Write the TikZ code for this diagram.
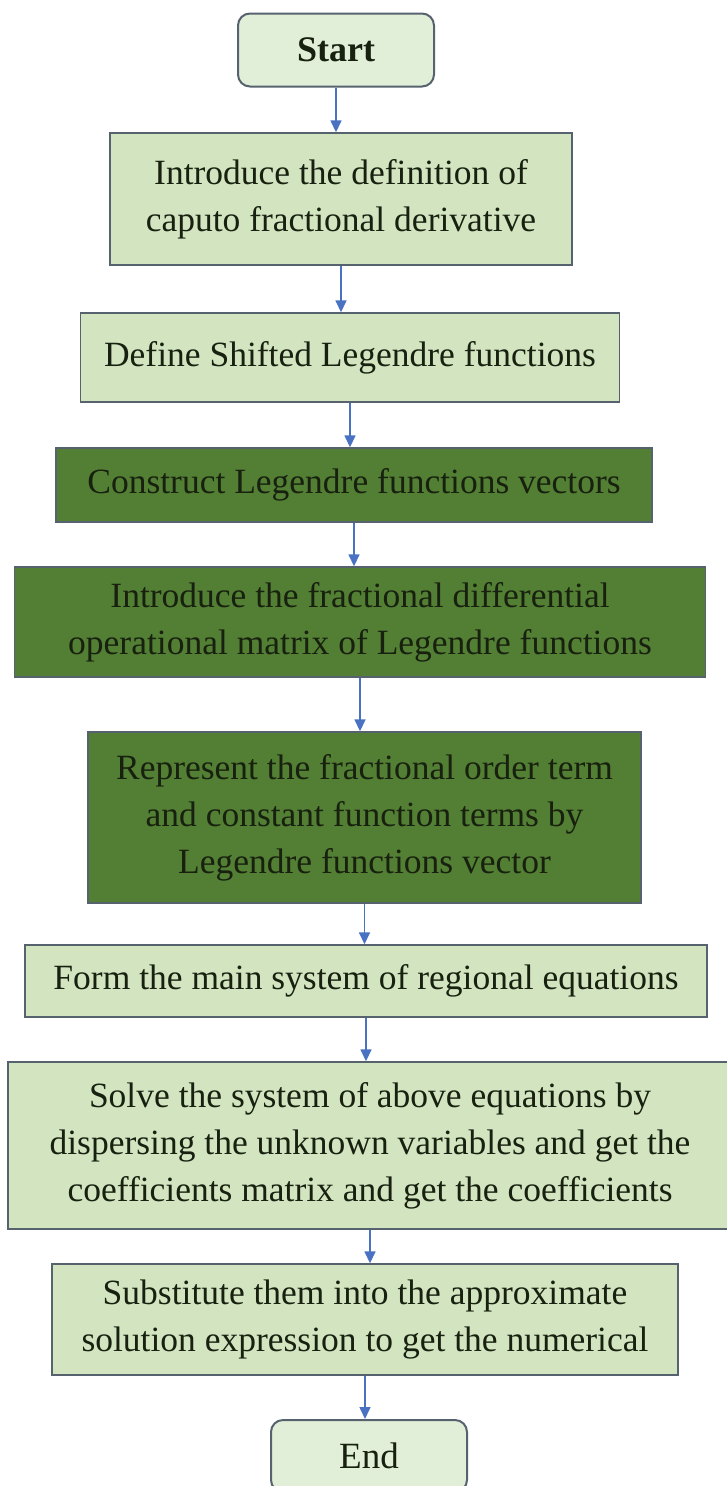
\documentclass[tikz,border=0pt]{standalone}
\usepackage{fontspec}
\setmainfont{Liberation Serif}
\usetikzlibrary{arrows.meta}

\definecolor{lightbox}{HTML}{D2E5C0}
\definecolor{darkbox}{HTML}{527F33}
\definecolor{termfill}{HTML}{E1EFD8}
\definecolor{boxline}{HTML}{56626E}
\definecolor{arrowblue}{HTML}{4A72C2}
\definecolor{textcol}{HTML}{18200F}

\tikzset{
  stepbase/.style={draw=boxline, line width=1.4pt, align=center, inner sep=0pt,
    text=textcol, font=\fontsize{35.5}{47}\selectfont},
  lightstep/.style={stepbase, fill=lightbox},
  darkstep/.style={stepbase, fill=darkbox},
  terminal/.style={stepbase, fill=termfill, rounded corners=12pt, line width=2pt,
    minimum width=196pt},
  flow/.style={draw=arrowblue, line width=1.5pt, -{Triangle[length=12pt,width=11pt]}}
}

\begin{document}
\begin{tikzpicture}[x=1pt,y=-1pt]
        \useasboundingbox (0,0) rectangle (726,1486);
        % boxes
        \node[terminal, minimum height=73pt, font=\fontsize{36}{47}\selectfont\bfseries] (start) at (336,50) {Start};
        \node[lightstep, minimum width=462pt, minimum height=132pt] (intro) at (341,199)
            {Introduce the definition of\\caputo fractional derivative};
        \node[lightstep, minimum width=539pt, minimum height=89pt] (shifted) at (350,357.5)
            {Define Shifted Legendre functions};
        \node[darkstep, minimum width=596pt, minimum height=74pt] (vectors) at (354,485)
            {Construct Legendre functions vectors};
        \node[darkstep, minimum width=691pt, minimum height=110pt] (opmatrix) at (360,622)
            {Introduce the fractional differential\\operational matrix of Legendre functions};
        \node[darkstep, minimum width=553pt, minimum height=171pt] (represent) at (364.5,817.5)
            {Represent the fractional order term\\and constant function terms by\\Legendre functions vector};
        \node[lightstep, minimum width=682pt, minimum height=72pt] (system) at (366,981)
            {Form the main system of regional equations};
        \node[lightstep, minimum width=724pt, minimum height=167pt] (solve) at (370,1145.5)
            {Solve the system of above equations by\\dispersing the unknown variables and get the\\coefficients matrix and get the coefficients};
        \node[lightstep, minimum width=626pt, minimum height=111pt] (substitute) at (365,1319.5)
            {Substitute them into the approximate\\solution expression to get the numerical};
        \node[terminal, minimum height=72pt, font=\fontsize{37}{47}\selectfont] (end) at (369,1456) {End};
        % arrows
        \draw[flow] (start.south) -- (start.south |- intro.north);
        \draw[flow] (intro.south) -- (intro.south |- shifted.north);
        \draw[flow] (shifted.south) -- (shifted.south |- vectors.north);
        \draw[flow] (vectors.south) -- (vectors.south |- opmatrix.north);
        \draw[flow] (opmatrix.south) -- (opmatrix.south |- represent.north);
        \draw[flow] (represent.south) -- (represent.south |- system.north);
        \draw[flow] (system.south) -- (system.south |- solve.north);
        \draw[flow] (solve.south) -- (solve.south |- substitute.north);
        \draw[flow] (substitute.south) -- (substitute.south |- end.north);
\end{tikzpicture}
\end{document}
